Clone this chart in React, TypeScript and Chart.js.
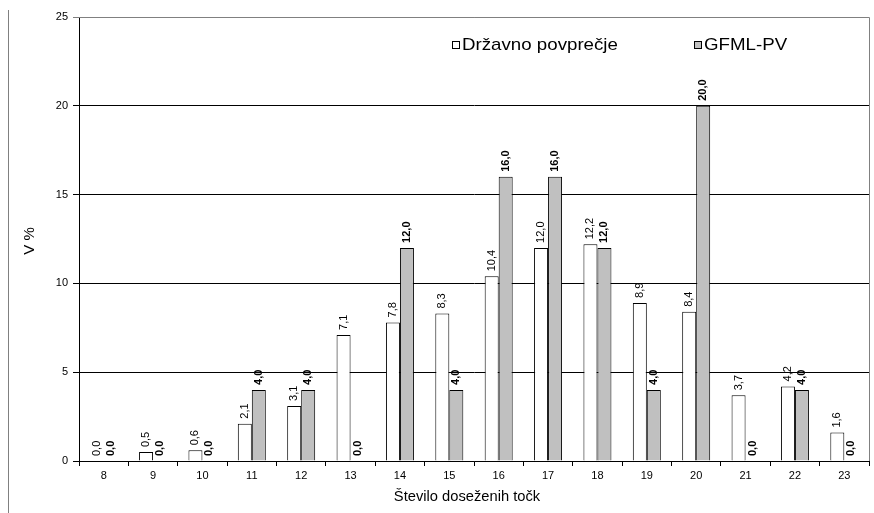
import React, { useEffect, useRef } from "react";
import { Chart, registerables } from "chart.js";

Chart.register(...registerables);

const categories = ["8", "9", "10", "11", "12", "13", "14", "15", "16", "17", "18", "19", "20", "21", "22", "23"];
const drzavnoValues = [0.0, 0.5, 0.6, 2.1, 3.1, 7.1, 7.8, 8.3, 10.4, 12.0, 12.2, 8.9, 8.4, 3.7, 4.2, 1.6];
const gfmlValues = [0.0, 0.0, 0.0, 4.0, 4.0, 0.0, 12.0, 4.0, 16.0, 16.0, 12.0, 4.0, 20.0, 0.0, 4.0, 0.0];
const seriesNames = ["Državno povprečje", "GFML-PV"];
const yTitle = "V %";
const xTitle = "Število doseženih točk";

const FONT = "'Liberation Sans', Arial, Helvetica, sans-serif";

const fmt = (v: number) => v.toFixed(1).replace(".", ",");

const decorPlugin = {
  id: "decor",
  afterDatasetsDraw(chart: any) {
    const ctx = chart.ctx;
    ctx.save();
    ctx.fillStyle = "#000";
    chart.data.datasets.forEach((ds: any, di: number) => {
      const meta = chart.getDatasetMeta(di);
      ctx.font = (di === 1 ? "bold " : "") + "11px " + FONT;
      meta.data.forEach((el: any, i: number) => {
        const v = ds.data[i];
        ctx.save();
        ctx.translate(el.x, el.y - 5);
        ctx.rotate(-Math.PI / 2);
        ctx.textAlign = "left";
        ctx.textBaseline = "middle";
        ctx.fillText(fmt(v), 0, 0);
        ctx.restore();
      });
    });
    ctx.restore();
  },
  afterDraw(chart: any) {
    const ctx = chart.ctx;
    const a = chart.chartArea;
    ctx.save();
    // plot frame (top/right grey)
    ctx.strokeStyle = "#808080";
    ctx.lineWidth = 1;
    ctx.beginPath();
    ctx.moveTo(a.left, Math.round(a.top) + 0.5);
    ctx.lineTo(Math.round(a.right) + 0.5, Math.round(a.top) + 0.5);
    ctx.lineTo(Math.round(a.right) + 0.5, a.bottom);
    ctx.stroke();
    // left page line
    ctx.beginPath();
    ctx.moveTo(8.5, 10);
    ctx.lineTo(8.5, 513);
    ctx.stroke();

    // legend
    const legendX = [452, 694];
    chart.data.datasets.forEach((ds: any, di: number) => {
      const x = legendX[di];
      ctx.fillStyle = ds.backgroundColor;
      ctx.fillRect(x, 41, 7, 7);
      ctx.strokeStyle = "#000";
      ctx.lineWidth = 1;
      ctx.strokeRect(x + 0.5, 41.5, 7, 7);
      ctx.save();
      ctx.translate(x + 10, 45);
      ctx.scale(1.1, 1);
      ctx.fillStyle = "#000";
      ctx.font = "17px " + FONT;
      ctx.textAlign = "left";
      ctx.textBaseline = "middle";
      ctx.fillText(ds.label, 0, 0);
      ctx.restore();
    });

    // axis titles
    ctx.fillStyle = "#000";
    ctx.save();
    ctx.translate(467, 497);
    ctx.scale(1.05, 1);
    ctx.font = "14px " + FONT;
    ctx.textAlign = "center";
    ctx.textBaseline = "middle";
    ctx.fillText(xTitle, 0, 0);
    ctx.restore();

    ctx.save();
    ctx.translate(30, 241);
    ctx.rotate(-Math.PI / 2);
    ctx.font = "15px " + FONT;
    ctx.textAlign = "center";
    ctx.textBaseline = "middle";
    ctx.fillText(yTitle, 0, 0);
    ctx.restore();

    ctx.restore();
  },
};

export default function App() {
  const ref = useRef<HTMLCanvasElement | null>(null);

  useEffect(() => {
    if (!ref.current) return;
    Chart.defaults.font.family = FONT;
    Chart.defaults.color = "#000";
    const chart = new Chart(ref.current, {
      type: "bar",
      data: {
        labels: categories,
        datasets: [
          {
            label: seriesNames[0],
            data: drzavnoValues,
            backgroundColor: "#FFFFFF",
            borderColor: "#000000",
            borderWidth: 1,
            categoryPercentage: 0.567,
            barPercentage: 1,
          },
          {
            label: seriesNames[1],
            data: gfmlValues,
            backgroundColor: "#C0C0C0",
            borderColor: "#000000",
            borderWidth: 1,
            categoryPercentage: 0.567,
            barPercentage: 1,
          },
        ],
      },
      options: {
        animation: false,
        responsive: false,
        devicePixelRatio: 1,
        layout: { padding: { left: 0, right: 5, top: 17, bottom: 0 } },
        plugins: {
          legend: { display: false },
          tooltip: { enabled: false },
          title: { display: false },
        },
        scales: {
          x: {
            offset: true,
            afterFit: (s: any) => {
              s.height = 52;
            },
            grid: {
              offset: true,
              drawOnChartArea: false,
              drawTicks: true,
              tickLength: 5,
              color: "#000",
            },
            border: { display: true, color: "#000", width: 1 },
            ticks: { font: { size: 11 }, color: "#000", padding: 3 },
          },
          y: {
            min: 0,
            max: 25,
            afterFit: (s: any) => {
              s.width = 79;
            },
            grid: {
              color: (c: any) => (c.tick && c.tick.value === 25 ? "#808080" : "#000"),
              drawTicks: true,
              tickLength: 6,
              lineWidth: 1,
            },
            border: { display: true, color: "#000", width: 1 },
            ticks: { stepSize: 5, font: { size: 11 }, color: "#000", padding: 5 },
          },
        },
      },
      plugins: [decorPlugin],
    } as any);
    return () => chart.destroy();
  }, []);

  return (
    <div style={{ position: "absolute", left: 0, top: 0, width: 874, height: 513, background: "#fff" }}>
      <canvas ref={ref} width={874} height={513} style={{ display: "block", width: 874, height: 513 }} />
    </div>
  );
}
